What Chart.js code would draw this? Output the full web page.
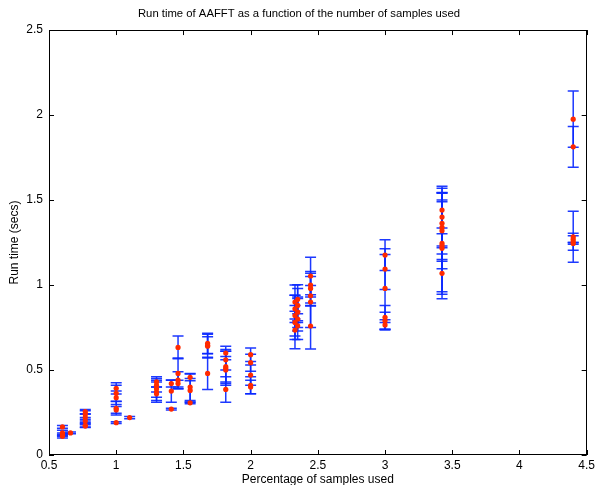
<!DOCTYPE html>
<html>
<head>
<meta charset="utf-8">
<script src="https://cdn.jsdelivr.net/npm/chart.js@4/dist/chart.umd.min.js"></script>
<style>
html,body{margin:0;padding:0;background:#fff;}
#wrap{width:598px;height:485px;position:relative;}
</style>
</head>
<body>
<div id="wrap"><canvas id="c" width="598" height="485"></canvas></div>
<script>
// Percentage of samples used (x position of each group of runs)
const xPos = [0.6, 0.66, 0.77, 1.0, 1.1, 1.3, 1.41, 1.46, 1.55, 1.68, 1.815, 2.0, 2.33, 2.35, 2.446, 3.0, 3.424, 4.4];
// Run time (secs) of each run in the group
const runTimes = [
  [0.165, 0.13, 0.12, 0.11],
  [0.13],
  [0.255, 0.24, 0.22, 0.2, 0.175, 0.17],
  [0.392, 0.363, 0.337, 0.275, 0.265, 0.19],
  [0.22],
  [0.43, 0.41, 0.39, 0.37, 0.36],
  [0.42, 0.376, 0.27],
  [0.633, 0.48, 0.44, 0.42],
  [0.457, 0.40, 0.38, 0.307],
  [0.657, 0.645, 0.64, 0.48],
  [0.60, 0.56, 0.52, 0.51, 0.50, 0.386],
  [0.59, 0.543, 0.47, 0.41, 0.40],
  [0.90, 0.86, 0.82, 0.78, 0.735],
  [0.916, 0.88, 0.84, 0.80, 0.76],
  [1.053, 1.0, 0.98, 0.937, 0.9, 0.759],
  [1.176, 1.094, 0.98, 0.81, 0.79, 0.765],
  [1.441, 1.40, 1.363, 1.34, 1.32, 1.245, 1.23, 1.216, 1.069],
  [1.976, 1.813, 1.284, 1.27, 1.255, 1.245]
];
// Error (± secs) of each run
const errors = [
  [0.008, 0.015, 0.01, 0.01],
  [0.005],
  [0.012, 0.02, 0.02, 0.01, 0.01, 0.008],
  [0.033, 0.047, 0.04, 0.04, 0.02, 0.005],
  [0.006],
  [0.03, 0.04, 0.05, 0.06, 0.04],
  [0.02, 0.065, 0.005],
  [0.067, 0.09, 0.05, 0.02],
  [0.02, 0.08, 0.07, 0.005],
  [0.06, 0.05, 0.07, 0.095],
  [0.04, 0.06, 0.09, 0.1, 0.08, 0.075],
  [0.04, 0.05, 0.06, 0.05, 0.04],
  [0.1, 0.08, 0.12, 0.1, 0.11],
  [0.085, 0.1, 0.09, 0.12, 0.03],
  [0.11, 0.07, 0.1, 0.06, 0.15, 0.135],
  [0.09, 0.12, 0.2, 0.07, 0.05, 0.03],
  [0.14, 0.17, 0.18, 0.2, 0.17, 0.3, 0.27, 0.12, 0.15],
  [0.165, 0.12, 0.15, 0.02, 0.05, 0.005]
];
const xTicks = [0.5, 1, 1.5, 2, 2.5, 3, 3.5, 4, 4.5];
const yTicks = [0, 0.5, 1, 1.5, 2, 2.5];
const titleText = 'Run time of AAFFT as a function of the number of samples used';
const xTitle = 'Percentage of samples used';
const yTitle = 'Run time (secs)';

const points = [];
const bars = [];
xPos.forEach((x, i) => {
  runTimes[i].forEach((y, j) => {
    points.push({x: x, y: y});
    bars.push({x: x, y: y, e: errors[i][j]});
  });
});

const FONT = 'Liberation Sans, Arial, Helvetica, sans-serif';

const errorBarPlugin = {
  id: 'errorBars',
  beforeDatasetsDraw(chart) {
    const {ctx, scales: {x, y}} = chart;
    ctx.save();
    ctx.strokeStyle = 'rgba(10,40,255,0.92)';
    ctx.lineWidth = 1.5;
    const half = 5.5;
    bars.forEach(b => {
      const px = x.getPixelForValue(b.x);
      const pt = y.getPixelForValue(b.y + b.e);
      const pb = y.getPixelForValue(b.y - b.e);
      ctx.beginPath();
      ctx.moveTo(px, pt); ctx.lineTo(px, pb);
      ctx.moveTo(px - half, pt); ctx.lineTo(px + half, pt);
      ctx.moveTo(px - half, pb); ctx.lineTo(px + half, pb);
      ctx.stroke();
    });
    ctx.restore();
  }
};

const boxPlugin = {
  id: 'box',
  afterDatasetsDraw(chart) {
    const {ctx, chartArea: a, scales: {x, y}} = chart;
    ctx.save();
    ctx.strokeStyle = '#000';
    ctx.lineWidth = 1;
    ctx.strokeRect(Math.round(a.left) + 0.5, Math.round(a.top) + 0.5,
      Math.round(a.right - a.left) - 1, Math.round(a.bottom - a.top) - 1);
    const L = 5;
    ctx.beginPath();
    xTicks.forEach(v => {
      const px = Math.round(x.getPixelForValue(v)) + 0.5;
      ctx.moveTo(px, a.bottom); ctx.lineTo(px, a.bottom - L);
      ctx.moveTo(px, a.top); ctx.lineTo(px, a.top + L);
    });
    yTicks.forEach(v => {
      const py = Math.round(y.getPixelForValue(v)) + 0.5;
      ctx.moveTo(a.left, py); ctx.lineTo(a.left + L, py);
      ctx.moveTo(a.right, py); ctx.lineTo(a.right - L, py);
    });
    ctx.stroke();
    ctx.restore();
  }
};

new Chart(document.getElementById('c'), {
  type: 'scatter',
  data: {
    datasets: [{
      data: points,
      backgroundColor: '#ff2a00',
      borderWidth: 0,
      pointRadius: 2.6,
      pointHoverRadius: 2.6
    }]
  },
  options: {
    responsive: false,
    animation: false,
    events: [],
    layout: {padding: 0},
    plugins: {
      legend: {display: false},
      tooltip: {enabled: false},
      title: {
        display: true,
        text: titleText,
        color: '#000',
        font: {family: FONT, size: 11.3, weight: 'normal'},
        padding: {top: 7, bottom: 9.5}
      }
    },
    scales: {
      x: {
        type: 'linear',
        min: 0.5, max: 4.5,
        afterBuildTicks(s) { s.ticks = xTicks.map(v => ({value: v})); },
        afterFit(s) { s.height = 30; },
        grid: {display: false, drawTicks: false},
        border: {display: false},
        ticks: {
          color: '#000', padding: 3,
          font: {family: FONT, size: 12},
          callback: v => String(v)
        },
        title: {
          display: true, text: xTitle, color: '#000',
          font: {family: FONT, size: 12},
          padding: {top: 0, bottom: -2}
        }
      },
      y: {
        type: 'linear',
        min: 0, max: 2.5,
        afterBuildTicks(s) { s.ticks = yTicks.map(v => ({value: v})); },
        afterFit(s) { s.width = 49; },
        grid: {display: false, drawTicks: false},
        border: {display: false},
        ticks: {
          color: '#000', padding: 6,
          font: {family: FONT, size: 12},
          callback: v => String(v)
        },
        title: {
          display: true, text: yTitle, color: '#000',
          font: {family: FONT, size: 12},
          padding: {top: 7, bottom: 0}
        }
      },
      yRight: {
        type: 'linear',
        position: 'right',
        min: 0, max: 2.5,
        afterFit(s) { s.width = 10; },
        grid: {display: false, drawTicks: false},
        border: {display: false},
        ticks: {display: false}
      }
    }
  },
  plugins: [errorBarPlugin, boxPlugin]
});
</script>
</body>
</html>
